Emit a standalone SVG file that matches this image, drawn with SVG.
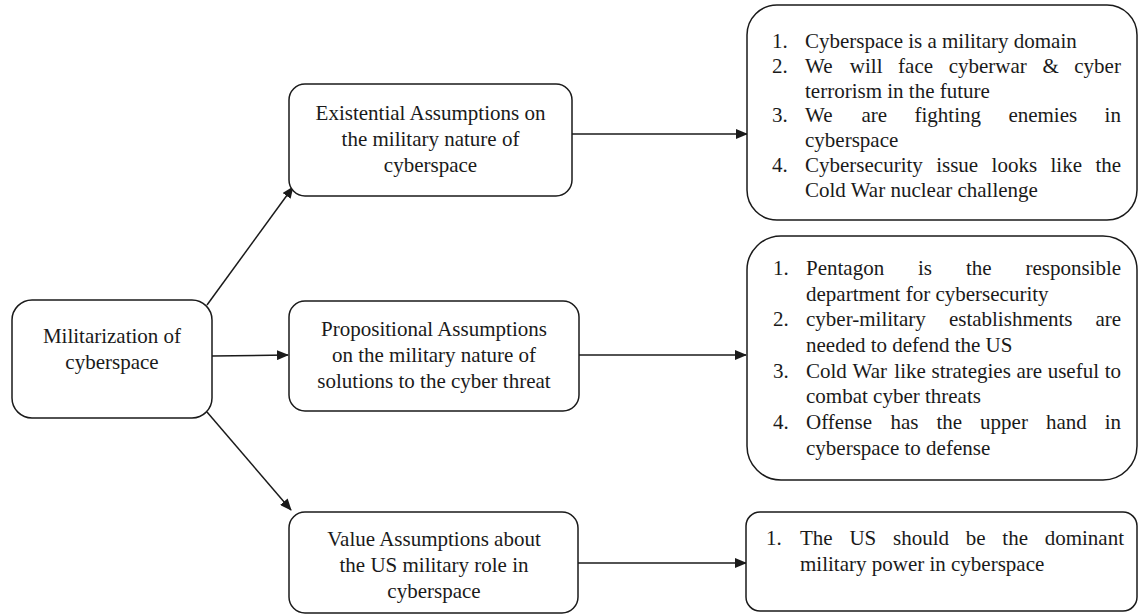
<svg xmlns="http://www.w3.org/2000/svg" width="1139" height="615" viewBox="0 0 1139 615">
<style>
.box{fill:#fff;stroke:#1a1a1a;stroke-width:1.5}
.t{font-family:"Liberation Serif","Times New Roman",serif;font-size:21px;fill:#1a1a1a}
.c{text-anchor:middle}
.ln{stroke:#1a1a1a;stroke-width:1.5;fill:none;marker-end:url(#ah)}
</style>
<defs>
<marker id="ah" markerUnits="userSpaceOnUse" markerWidth="12" markerHeight="10" refX="11" refY="5" orient="auto">
<path d="M0,0 L12,5 L0,10 Z" fill="#1a1a1a"/>
</marker>
</defs>
<rect width="1139" height="615" fill="#fff"/>
<g id="connectors">
<line class="ln" x1="207" y1="305" x2="293" y2="187"/>
<line class="ln" x1="212" y1="356" x2="288" y2="355"/>
<line class="ln" x1="207" y1="412" x2="291" y2="510"/>
<line class="ln" x1="572" y1="134" x2="747" y2="134"/>
<line class="ln" x1="579" y1="355" x2="746" y2="355"/>
<line class="ln" x1="578" y1="563" x2="746" y2="563"/>
</g>
<g id="militarization">
<rect class="box" x="12" y="300" width="200" height="118" rx="20"/>
<text class="t c" x="112" y="343">Militarization of</text>
<text class="t c" x="112" y="369">cyberspace</text>
</g>
<g id="existential">
<rect class="box" x="289" y="84" width="283" height="112" rx="16"/>
<text class="t c" x="430.5" y="120">Existential Assumptions on</text>
<text class="t c" x="430.5" y="146">the military nature of</text>
<text class="t c" x="430.5" y="172">cyberspace</text>
</g>
<g id="propositional">
<rect class="box" x="289" y="301" width="290" height="110" rx="16"/>
<text class="t c" x="434" y="336">Propositional Assumptions</text>
<text class="t c" x="434" y="362">on the military nature of</text>
<text class="t c" x="434" y="388">solutions to the cyber threat</text>
</g>
<g id="value">
<rect class="box" x="289" y="512" width="289" height="101" rx="16"/>
<text class="t c" x="434" y="546">Value Assumptions about</text>
<text class="t c" x="434" y="572">the US military role in</text>
<text class="t c" x="434" y="598">cyberspace</text>
</g>
<g id="existential-list">
<rect class="box" x="747" y="5" width="390" height="215" rx="30"/>
<text class="t" y="48"><tspan x="772">1.</tspan><tspan x="805">Cyberspace is a military domain</tspan></text>
<text class="t" y="72.8"><tspan x="772">2.</tspan><tspan x="805">We</tspan><tspan x="849.8">will</tspan><tspan x="898.1">face</tspan><tspan x="948.7">cyberwar</tspan><tspan x="1042.4">&amp;</tspan><tspan x="1074.3">cyber</tspan></text>
<text class="t" x="805" y="97.6">terrorism in the future</text>
<text class="t" y="122.4"><tspan x="772">3.</tspan><tspan x="805">We</tspan><tspan x="861.5">are</tspan><tspan x="914.5">fighting</tspan><tspan x="1008.4">enemies</tspan><tspan x="1104.6">in</tspan></text>
<text class="t" x="805" y="147.2">cyberspace</text>
<text class="t" y="172"><tspan x="772">4.</tspan><tspan x="805">Cybersecurity</tspan><tspan x="936.2">issue</tspan><tspan x="991.6">looks</tspan><tspan x="1050.5">like</tspan><tspan x="1095.4">the</tspan></text>
<text class="t" x="805" y="196.8">Cold War nuclear challenge</text>
</g>
<g id="propositional-list">
<rect class="box" x="747" y="236" width="390" height="244" rx="34"/>
<text class="t" y="275"><tspan x="773">1.</tspan><tspan x="806">Pentagon</tspan><tspan x="918">is</tspan><tspan x="965.9">the</tspan><tspan x="1025.4">responsible</tspan></text>
<text class="t" x="806" y="301">department for cybersecurity</text>
<text class="t" y="326"><tspan x="773">2.</tspan><tspan x="806">cyber-military</tspan><tspan x="948.9">establishments</tspan><tspan x="1095.4">are</tspan></text>
<text class="t" x="806" y="352">needed to defend the US</text>
<text class="t" y="378"><tspan x="773">3.</tspan><tspan x="806">Cold</tspan><tspan x="852.5">War</tspan><tspan x="894.3">like</tspan><tspan x="931.5">strategies</tspan><tspan x="1016.4">are</tspan><tspan x="1047.7">useful</tspan><tspan x="1104.7">to</tspan></text>
<text class="t" x="806" y="403">combat cyber threats</text>
<text class="t" y="429"><tspan x="773">4.</tspan><tspan x="806">Offense</tspan><tspan x="890.5">has</tspan><tspan x="936.4">the</tspan><tspan x="980.1">upper</tspan><tspan x="1045.9">hand</tspan><tspan x="1104.7">in</tspan></text>
<text class="t" x="806" y="455">cyberspace to defense</text>
</g>
<g id="value-list">
<rect class="box" x="746" y="512" width="391" height="99" rx="14"/>
<text class="t" y="545"><tspan x="766">1.</tspan><tspan x="800">The</tspan><tspan x="849.4">US</tspan><tspan x="893">should</tspan><tspan x="965.7">be</tspan><tspan x="1002.3">the</tspan><tspan x="1044.7">dominant</tspan></text>
<text class="t" x="800" y="571">military power in cyberspace</text>
</g>
</svg>
